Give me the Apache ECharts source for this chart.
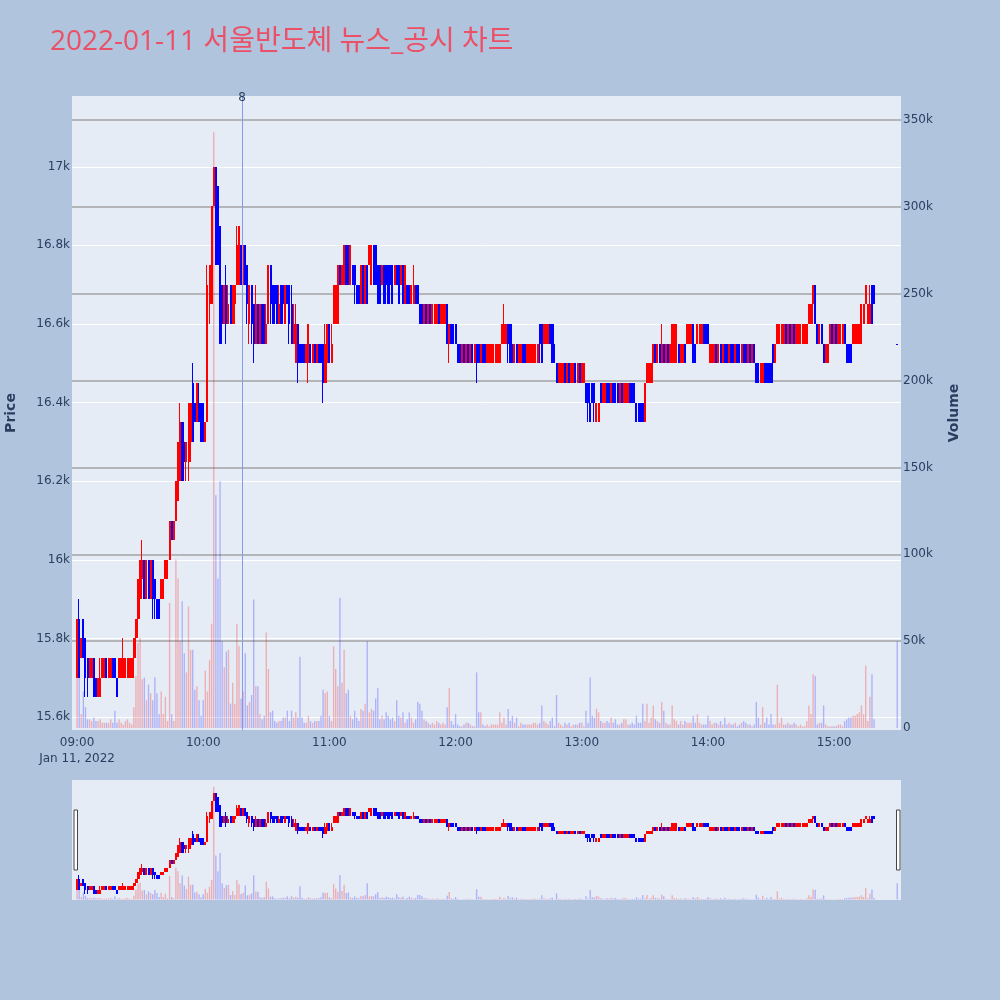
<!DOCTYPE html>
<html><head><meta charset="utf-8">
<script src="https://cdn.jsdelivr.net/npm/echarts@6/dist/echarts.min.js"></script>
<style>html,body{margin:0;padding:0;background:#B0C4DE}#main{width:1000px;height:1000px}</style>
</head><body><div id="main"></div>
<script>
const times = ("09:00 09:01 09:02 09:03 09:04 09:05 09:06 09:07 09:08 09:09 09:10 09:11 09:12 09:13 09:14 09:15 09:16 09:17 09:18 09:19 09:20 09:21 09:22 09:23 09:24 09:25 09:26 09:27 09:28 09:29 09:30 09:31 09:32 09:33 09:34 09:35 09:36 09:37 09:38 09:39 09:40 09:41 09:42 09:43 09:44 09:45 09:46 09:47 09:48 09:49 09:50 09:51 09:52 09:53 09:54 09:55 09:56 09:57 09:58 09:59 " +
"10:00 10:01 10:02 10:03 10:04 10:05 10:06 10:07 10:08 10:09 10:10 10:11 10:12 10:13 10:14 10:15 10:16 10:17 10:18 10:19 10:20 10:21 10:22 10:23 10:24 10:25 10:26 10:27 10:28 10:29 10:30 10:31 10:32 10:33 10:34 10:35 10:36 10:37 10:38 10:39 10:40 10:41 10:42 10:43 10:44 10:45 10:46 10:47 10:48 10:49 10:50 10:51 10:52 10:53 10:54 10:55 10:56 10:57 10:58 10:59 " +
"11:00 11:01 11:02 11:03 11:04 11:05 11:06 11:07 11:08 11:09 11:10 11:11 11:12 11:13 11:14 11:15 11:16 11:17 11:18 11:19 11:20 11:21 11:22 11:23 11:24 11:25 11:26 11:27 11:28 11:29 11:30 11:31 11:32 11:33 11:34 11:35 11:36 11:37 11:38 11:39 11:40 11:41 11:42 11:43 11:44 11:45 11:46 11:47 11:48 11:49 11:50 11:51 11:52 11:53 11:54 11:55 11:56 11:57 11:58 11:59 " +
"12:00 12:01 12:02 12:03 12:04 12:05 12:06 12:07 12:08 12:09 12:10 12:11 12:12 12:13 12:14 12:15 12:16 12:17 12:18 12:19 12:20 12:21 12:22 12:23 12:24 12:25 12:26 12:27 12:28 12:29 12:30 12:31 12:32 12:33 12:34 12:35 12:36 12:37 12:38 12:39 12:40 12:41 12:42 12:43 12:44 12:45 12:46 12:47 12:48 12:49 12:50 12:51 12:52 12:53 12:54 12:55 12:56 12:57 12:58 12:59 " +
"13:00 13:01 13:02 13:03 13:04 13:05 13:06 13:07 13:08 13:09 13:10 13:11 13:12 13:13 13:14 13:15 13:16 13:17 13:18 13:19 13:20 13:21 13:22 13:23 13:24 13:25 13:26 13:27 13:28 13:29 13:30 13:31 13:32 13:33 13:34 13:35 13:36 13:37 13:38 13:39 13:40 13:41 13:42 13:43 13:44 13:45 13:46 13:47 13:48 13:49 13:50 13:51 13:52 13:53 13:54 13:55 13:56 13:57 13:58 13:59 " +
"14:00 14:01 14:02 14:03 14:04 14:05 14:06 14:07 14:08 14:09 14:10 14:11 14:12 14:13 14:14 14:15 14:16 14:17 14:18 14:19 14:20 14:21 14:22 14:23 14:24 14:25 14:26 14:27 14:28 14:29 14:30 14:31 14:32 14:33 14:34 14:35 14:36 14:37 14:38 14:39 14:40 14:41 14:42 14:43 14:44 14:45 14:46 14:47 14:48 14:49 14:50 14:51 14:52 14:53 14:54 14:55 14:56 14:57 14:58 14:59 " +
"15:00 15:01 15:02 15:03 15:04 15:05 15:06 15:07 15:08 15:09 15:10 15:11 15:12 15:13 15:14 15:15 15:16 15:17 15:18 15:19 15:30").split(' ');

const opens = [
15700,15850,15750,15850,15800,15750,15700,15700,15750,15700,
15650,15650,15700,15700,15750,15700,15700,15750,15750,15700,
15700,15700,15700,15700,15700,15700,15700,15750,15800,15850,
15900,15950,16000,15900,16000,15900,16000,15950,15900,15900,
15900,15900,15950,15950,16000,16100,16050,16100,16150,16200,
16350,16300,16250,16250,16300,16450,16400,16350,16400,16400,
16400,16300,16350,16650,16650,16900,17000,16950,16850,16700,
16600,16700,16600,16700,16600,16650,16700,16700,16800,16700,
16800,16750,16600,16700,16650,16550,16650,16550,16650,16650,
16550,16600,16750,16700,16700,16700,16600,16700,16700,16600,
16700,16700,16650,16550,16500,16600,16550,16550,16550,16500,
16500,16550,16500,16550,16500,16550,16550,16550,16450,16500,
16600,16500,16600,16600,16600,16750,16700,16700,16800,16800,
16700,16750,16750,16700,16700,16650,16750,16650,16750,16750,
16700,16800,16800,16750,16750,16700,16750,16750,16750,16750,
16750,16700,16750,16750,16700,16750,16650,16700,16700,16650,
16650,16700,16700,16650,16650,16600,16650,16600,16650,16600,
16600,16600,16650,16600,16600,16600,16650,16550,16600,16600,
16600,16550,16550,16500,16550,16500,16550,16500,16550,16500,
16550,16550,16500,16550,16550,16500,16500,16500,16500,16500,
16500,16500,16550,16550,16550,16600,16600,16550,16500,16550,
16500,16500,16550,16550,16500,16500,16500,16500,16500,16500,
16600,16600,16550,16550,16550,16600,16600,16550,16500,16450,
16450,16450,16500,16450,16500,16450,16450,16500,16450,16500,
16450,16450,16450,16450,16400,16450,16450,16350,16350,16450,
16400,16400,16450,16450,16400,16450,16450,16450,16400,16450,
16400,16400,16400,16450,16450,16450,16400,16400,16400,16400,
16350,16450,16450,16450,16500,16550,16500,16550,16500,16550,
16500,16550,16500,16500,16500,16500,16550,16500,16500,16550,
16550,16550,16550,16600,16550,16550,16550,16550,16600,16600,
16600,16500,16500,16500,16550,16500,16550,16500,16550,16550,
16500,16550,16550,16500,16550,16550,16500,16550,16550,16500,
16550,16500,16550,16500,16500,16450,16450,16500,16500,16500,
16500,16550,16500,16550,16550,16550,16550,16600,16550,16600,
16550,16600,16550,16550,16550,16550,16550,16550,16600,16600,
16650,16700,16600,16550,16600,16550,16500,16500,16550,16600,
16550,16600,16550,16550,16550,16600,16550,16550,16550,16550,
16550,16550,16550,16550,16600,16650,16600,16600,16700,16700,
16550];

const closes = [
15850,15700,15800,15750,15700,15700,15750,15750,15650,15650,
15700,15700,15750,15750,15700,15750,15750,15700,15700,15650,
15750,15750,15750,15750,15750,15750,15750,15800,15850,15950,
16000,16000,15900,16000,15900,16000,15900,15900,15850,15850,
15950,15950,16000,16000,16100,16050,16100,16200,16300,16350,
16200,16250,16300,16400,16400,16300,16350,16450,16350,16300,
16300,16350,16700,16750,16900,17000,16750,16750,16550,16600,
16700,16600,16650,16600,16700,16700,16800,16850,16700,16800,
16700,16650,16700,16600,16550,16650,16550,16650,16550,16550,
16600,16750,16650,16600,16650,16600,16650,16600,16650,16700,
16650,16600,16550,16600,16600,16500,16500,16500,16500,16550,
16600,16500,16550,16500,16550,16500,16500,16450,16550,16600,
16500,16550,16700,16700,16750,16700,16750,16800,16700,16700,
16800,16700,16700,16650,16650,16750,16650,16750,16650,16800,
16800,16700,16700,16650,16650,16750,16650,16700,16650,16700,
16650,16750,16700,16650,16750,16650,16750,16650,16650,16700,
16700,16650,16650,16600,16600,16650,16600,16650,16600,16650,
16650,16650,16600,16650,16650,16650,16550,16600,16550,16550,
16550,16500,16500,16550,16500,16550,16500,16550,16500,16550,
16500,16500,16550,16500,16500,16550,16550,16550,16550,16550,
16550,16550,16600,16600,16600,16550,16500,16500,16550,16500,
16550,16550,16500,16500,16550,16550,16550,16550,16550,16550,
16550,16500,16600,16600,16600,16550,16500,16500,16450,16500,
16500,16500,16450,16500,16450,16500,16500,16450,16500,16450,
16500,16500,16400,16400,16350,16400,16400,16400,16400,16400,
16450,16450,16400,16400,16450,16400,16400,16400,16450,16400,
16450,16450,16450,16400,16400,16400,16350,16350,16350,16350,
16450,16500,16500,16500,16550,16500,16550,16500,16550,16500,
16550,16500,16550,16600,16600,16600,16500,16550,16550,16500,
16600,16600,16600,16500,16500,16600,16600,16600,16550,16550,
16550,16550,16550,16550,16500,16550,16500,16550,16500,16500,
16550,16500,16500,16550,16500,16500,16550,16500,16500,16550,
16500,16550,16500,16450,16450,16500,16500,16450,16450,16450,
16450,16500,16550,16600,16600,16600,16600,16550,16600,16550,
16600,16550,16600,16600,16600,16600,16600,16600,16650,16650,
16700,16600,16550,16600,16550,16500,16550,16550,16600,16550,
16600,16550,16600,16600,16600,16550,16500,16500,16500,16600,
16600,16600,16600,16650,16650,16700,16650,16650,16600,16650,
16550];

const lows = [
15700,15700,15750,15750,15650,15650,15700,15700,15650,15650,
15650,15650,15700,15700,15700,15700,15700,15700,15700,15650,
15700,15700,15700,15700,15700,15700,15700,15700,15750,15800,
15850,15900,15900,15900,15900,15900,15850,15850,15850,15850,
15900,15900,15950,15950,16000,16050,16050,16100,16150,16200,
16200,16200,16200,16200,16250,16300,16350,16350,16350,16300,
16300,16300,16350,16600,16650,16900,16750,16750,16550,16550,
16600,16550,16600,16600,16600,16600,16700,16700,16700,16700,
16700,16600,16550,16550,16500,16550,16550,16550,16550,16550,
16550,16600,16600,16600,16600,16600,16600,16600,16600,16600,
16650,16550,16550,16550,16500,16450,16500,16500,16500,16500,
16450,16500,16500,16500,16500,16500,16500,16400,16450,16450,
16500,16500,16600,16600,16600,16700,16700,16700,16700,16700,
16700,16700,16650,16650,16650,16650,16650,16650,16650,16750,
16700,16700,16700,16650,16650,16700,16650,16650,16650,16650,
16650,16700,16700,16650,16700,16650,16650,16650,16650,16650,
16650,16650,16650,16600,16600,16600,16600,16600,16600,16600,
16600,16600,16600,16600,16600,16600,16550,16500,16550,16550,
16550,16500,16500,16500,16500,16500,16500,16500,16500,16500,
16450,16500,16500,16500,16500,16500,16500,16500,16500,16500,
16500,16500,16550,16550,16550,16500,16500,16500,16500,16500,
16500,16500,16500,16500,16500,16500,16500,16500,16500,16500,
16500,16500,16550,16550,16550,16550,16500,16500,16450,16450,
16450,16450,16450,16450,16450,16450,16450,16450,16450,16450,
16450,16450,16400,16350,16350,16400,16350,16350,16350,16400,
16400,16400,16400,16400,16400,16400,16400,16400,16400,16400,
16400,16400,16400,16400,16400,16400,16350,16350,16350,16350,
16350,16450,16450,16450,16450,16500,16500,16500,16500,16500,
16500,16500,16500,16500,16500,16500,16500,16500,16500,16500,
16550,16550,16550,16500,16500,16550,16550,16550,16550,16550,
16550,16500,16500,16500,16500,16500,16500,16500,16500,16500,
16500,16500,16500,16500,16500,16500,16500,16500,16500,16500,
16500,16500,16500,16450,16450,16450,16450,16450,16450,16450,
16450,16450,16500,16550,16550,16550,16550,16550,16550,16550,
16550,16550,16550,16550,16550,16550,16550,16550,16600,16600,
16600,16600,16550,16550,16550,16500,16500,16500,16550,16550,
16550,16550,16550,16550,16550,16550,16500,16500,16500,16550,
16550,16550,16550,16550,16600,16650,16600,16600,16600,16650,
16550];

const highs = [
15850,15900,15800,15850,15800,15750,15750,15750,15750,15700,
15700,15750,15750,15750,15750,15750,15750,15750,15750,15700,
15750,15750,15800,15750,15750,15750,15750,15800,15850,15950,
16000,16050,16000,16000,16000,16000,16000,15950,15900,15900,
15950,15950,16000,16000,16100,16100,16100,16200,16300,16400,
16350,16350,16300,16400,16400,16500,16400,16450,16450,16400,
16400,16350,16750,16750,16900,17000,17000,16950,16850,16700,
16700,16750,16700,16700,16700,16700,16850,16850,16800,16800,
16800,16750,16700,16700,16650,16700,16650,16650,16650,16650,
16650,16750,16750,16700,16700,16700,16700,16700,16700,16700,
16700,16700,16700,16650,16650,16600,16550,16550,16550,16550,
16600,16550,16550,16550,16550,16550,16550,16550,16600,16600,
16600,16600,16700,16700,16750,16750,16750,16800,16800,16800,
16800,16750,16750,16700,16700,16750,16750,16750,16750,16800,
16800,16800,16800,16750,16750,16750,16750,16750,16750,16750,
16750,16750,16750,16750,16750,16750,16750,16700,16700,16700,
16750,16700,16700,16650,16650,16650,16650,16650,16650,16650,
16650,16650,16650,16650,16650,16650,16650,16600,16600,16600,
16600,16550,16550,16550,16550,16550,16550,16550,16550,16550,
16550,16550,16550,16550,16550,16550,16550,16550,16550,16550,
16550,16550,16600,16650,16600,16600,16600,16600,16550,16550,
16550,16550,16550,16550,16550,16550,16550,16550,16550,16550,
16600,16600,16600,16600,16600,16600,16600,16600,16500,16500,
16500,16500,16500,16500,16500,16500,16500,16500,16500,16500,
16500,16500,16450,16450,16450,16450,16450,16400,16400,16450,
16450,16450,16450,16450,16450,16450,16450,16450,16450,16450,
16450,16450,16450,16450,16450,16450,16400,16400,16400,16400,
16450,16500,16500,16500,16550,16550,16550,16550,16600,16550,
16550,16550,16550,16600,16600,16600,16550,16550,16550,16550,
16600,16600,16600,16600,16550,16600,16600,16600,16600,16600,
16600,16550,16550,16550,16550,16550,16550,16550,16550,16550,
16550,16550,16550,16550,16550,16550,16550,16550,16550,16550,
16550,16550,16550,16500,16500,16500,16500,16500,16500,16500,
16500,16550,16550,16600,16600,16600,16600,16600,16600,16600,
16600,16600,16600,16600,16600,16600,16600,16600,16650,16650,
16700,16700,16600,16600,16600,16550,16550,16550,16600,16600,
16600,16600,16600,16600,16600,16600,16550,16550,16550,16600,
16600,16600,16600,16650,16650,16700,16650,16700,16700,16700,
16550];

// volume in thousands of shares
const volumeK = [
29,45,8,21,12,5,5,4,6,4,
4,5,3,3,3,3,5,3,10,3,
5,3,2,4,5,3,2,12,30,49,
52,28,29,16,25,20,16,29,20,8,
21,8,18,4,72,8,4,97,86,50,
73,43,32,70,45,45,22,24,16,7,
16,33,21,39,60,343,134,86,142,50,
35,44,45,14,26,14,60,47,17,21,
43,13,15,19,74,24,24,8,5,7,
55,34,9,10,4,3,4,4,6,6,
10,4,10,6,9,6,41,6,3,3,
7,4,3,4,4,4,7,22,20,21,
7,4,47,34,24,75,26,45,20,22,
7,5,10,6,4,11,10,14,50,9,
11,10,17,23,5,7,5,9,7,5,
6,4,16,7,6,9,3,5,9,6,
3,5,15,14,10,5,4,3,2,3,
2,4,3,2,3,2,12,23,4,2,
8,2,1,1,2,3,3,2,1,1,
32,9,9,2,1,2,1,2,2,2,
2,9,3,6,2,11,4,7,3,6,
1,3,2,2,2,2,2,3,3,2,
3,13,4,3,2,4,6,1,19,3,
2,1,3,2,3,1,2,2,2,3,
3,1,10,3,29,7,6,11,9,4,
3,3,4,3,6,3,5,2,2,3,
5,5,2,2,3,2,7,3,3,14,
4,14,3,6,13,5,4,3,15,10,
3,2,2,13,5,4,2,4,2,4,
3,3,3,7,3,8,3,2,2,2,
7,4,2,3,3,2,4,2,6,2,
3,2,2,3,1,2,3,4,3,2,
2,1,2,15,6,2,12,3,6,2,
8,2,2,25,3,6,2,2,3,2,
2,3,2,1,2,1,1,4,13,8,
31,30,2,3,3,13,2,1,1,1,
1,1,2,2,1,4,5,6,6,7,
7,8,9,13,8,36,4,18,31,5,
50];

const xTickTimes = ['09:00','10:00','11:00','12:00','13:00','14:00','15:00'];
const dateLabel = 'Jan 11, 2022';
const priceTicks = [15600,15800,16000,16200,16400,16600,16800,17000];
const volumeTicksK = [0,50,100,150,200,250,300,350];
const newsTimes = ['10:18:30'];
const newsLabels = ['8'];
const titleText = '2022-01-11 서울반도체 뉴스_공시 차트';

const UP = '#FF0000', DOWN = '#0000FF';
const TITLE_FONT = "'Open Sans', 'Noto Sans CJK KR', sans-serif";
const FONT = "'DejaVu Sans', Verdana, sans-serif";
const TXT = '#2a3f5f';

function toMin(t){ const p = t.split(':').map(Number); return (p[0]-9)*60 + p[1] + (p[2]||0)/60; }
function fmtTime(v){ const h = 9 + Math.floor(v/60), m = Math.round(v%60); return String(h).padStart(2,'0')+':'+String(m).padStart(2,'0'); }

const n = Math.min(times.length, opens.length, closes.length, lows.length, highs.length, volumeK.length);
const candleData = [], volData = [];
for (let i = 0; i < n; i++) {
  const x = toMin(times[i]);
  candleData.push([x, opens[i], closes[i], lows[i], highs[i]]);
  volData.push({ value: [x, volumeK[i]], itemStyle: { color: closes[i] > opens[i] ? 'rgba(255,0,0,0.26)' : 'rgba(0,0,255,0.24)' } });
}

const X_MIN = -2.4, X_MAX = 391.8;
const P_MIN = 15567, P_MAX = 17180;
const V_MIN = -1.15, V_MAX = 363.8;
const xTickVals = xTickTimes.map(toMin);

function renderCandle(params, api) {
  const x = api.value(0), o = api.value(1), c = api.value(2), l = api.value(3), h = api.value(4);
  const pO = api.coord([x, o]), pC = api.coord([x, c]), pL = api.coord([x, l]), pH = api.coord([x, h]);
  const cx = Math.round(pO[0]);
  const color = c > o ? UP : DOWN;
  const top = Math.round(Math.min(pO[1], pC[1])), bot = Math.round(Math.max(pO[1], pC[1]));
  const wTop = Math.round(pH[1]), wBot = Math.round(pL[1]);
  return { type: 'group', children: [
    { type: 'rect', shape: { x: cx - 1, y: wTop, width: 1, height: Math.max(1, wBot - wTop) }, style: { fill: color } },
    { type: 'rect', shape: { x: cx - 1, y: top, width: 2, height: Math.max(1, bot - top) }, style: { fill: color } }
  ]};
}

const chart = echarts.init(document.getElementById('main'));

chart.setOption({
  animation: false,
  backgroundColor: '#B0C4DE',
  title: { text: titleText, left: 50, top: 28, padding: 0, textStyle: { color: '#EC5066', fontSize: 28, fontWeight: 'normal', fontFamily: TITLE_FONT } },
  grid: [
    { left: 72, right: 99, top: 96, height: 634, show: true, backgroundColor: '#E5ECF6', borderWidth: 0, outerBoundsMode: 'none', containLabel: false },
    { left: 72, right: 99, top: 780, height: 120, show: true, backgroundColor: '#E5ECF6', borderWidth: 0, outerBoundsMode: 'none', containLabel: false }
  ],
  xAxis: [
    { type: 'value', gridIndex: 0, min: X_MIN, max: X_MAX,
      axisLine: { show: false }, axisTick: { show: false }, splitLine: { show: false },
      axisLabel: { customValues: xTickVals, color: TXT, fontSize: 12, fontFamily: FONT, margin: 5, lineHeight: 16,
        formatter: v => fmtTime(v) + (Math.abs(v) < 0.01 ? '\n' + dateLabel : '') } },
    { type: 'value', gridIndex: 1, min: X_MIN, max: X_MAX, show: false, splitLine: { show: false } }
  ],
  yAxis: [
    { type: 'value', gridIndex: 0, position: 'left', min: P_MIN, max: P_MAX,
      name: 'Price', nameLocation: 'middle', nameGap: 54, nameRotate: 90,
      nameTextStyle: { color: TXT, fontSize: 14, fontWeight: 'bold', fontFamily: FONT },
      axisLine: { show: false }, axisTick: { show: false, customValues: priceTicks },
      splitLine: { show: true, lineStyle: { color: '#FFFFFF', width: 1 } },
      axisLabel: { customValues: priceTicks, color: TXT, fontSize: 12, fontFamily: FONT, margin: 2,
        formatter: v => (v/1000) + 'k' } },
    { type: 'value', gridIndex: 0, position: 'right', min: V_MIN, max: V_MAX,
      name: 'Volume', nameLocation: 'middle', nameGap: 46, nameRotate: 90,
      nameTextStyle: { color: TXT, fontSize: 14, fontWeight: 'bold', fontFamily: FONT },
      axisLine: { show: false }, axisTick: { show: false, customValues: volumeTicksK.filter(v => v > 0) },
      splitLine: { show: true, lineStyle: { color: '#9a9a9a', width: 1.5, opacity: 0.9 } },
      axisLabel: { customValues: volumeTicksK, color: TXT, fontSize: 12, fontFamily: FONT, margin: 2,
        formatter: v => v === 0 ? '0' : v + 'k' } },
    { type: 'value', gridIndex: 1, min: P_MIN, max: P_MAX, show: false, splitLine: { show: false } },
    { type: 'value', gridIndex: 1, min: V_MIN, max: V_MAX, show: false, splitLine: { show: false } }
  ],
  series: [
    { type: 'bar', name: 'Volume', xAxisIndex: 0, yAxisIndex: 1, data: volData, barWidth: 1.4, z: 1, silent: true },
    { type: 'custom', name: 'Price', xAxisIndex: 0, yAxisIndex: 0, data: candleData, renderItem: renderCandle,
      encode: { x: 0, y: [1, 2, 3, 4] }, clip: true, z: 3, silent: true,
      markLine: { silent: true, symbol: ['none', 'none'], animation: false,
        lineStyle: { color: '#7f9cf0', width: 1, type: 'solid' },
        label: { show: true, position: 'end', distance: -8, color: TXT, fontSize: 12, fontFamily: FONT,
          formatter: p => newsLabels[p.dataIndex] },
        data: newsTimes.map(t => ({ xAxis: toMin(t) })) } },
    { type: 'bar', xAxisIndex: 1, yAxisIndex: 3, data: volData, barWidth: 1.4, z: 1, silent: true },
    { type: 'custom', xAxisIndex: 1, yAxisIndex: 2, data: candleData, renderItem: renderCandle,
      encode: { x: 0, y: [1, 2, 3, 4] }, clip: true, z: 3, silent: true }
  ],
  graphic: [
    { type: 'rect', shape: { x: 74, y: 810, width: 3.5, height: 60 }, style: { fill: '#FFFFFF', stroke: '#444444', lineWidth: 1 }, z: 100 },
    { type: 'rect', shape: { x: 896.5, y: 810, width: 3.5, height: 60 }, style: { fill: '#FFFFFF', stroke: '#444444', lineWidth: 1 }, z: 100 }
  ]
});
</script></body></html>
